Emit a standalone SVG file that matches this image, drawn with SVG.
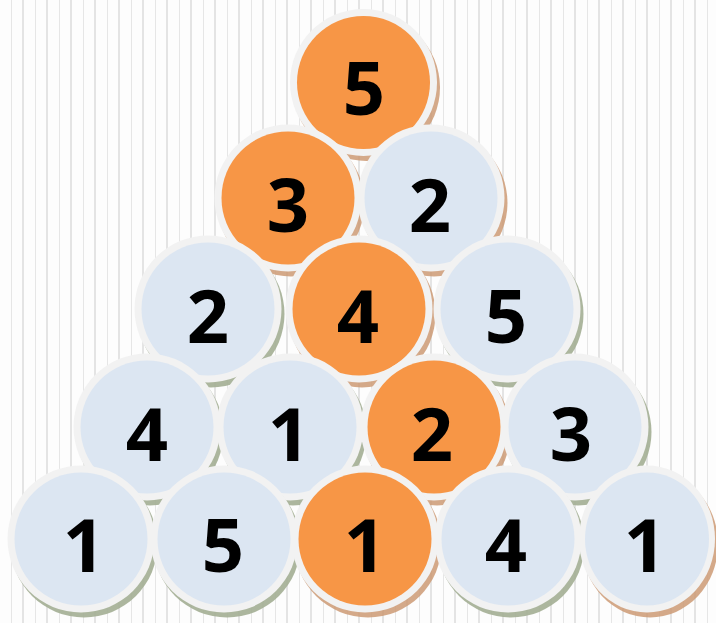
<svg xmlns="http://www.w3.org/2000/svg" width="716" height="623" viewBox="0 0 716 623">
  <defs>
    <pattern id="stripes" x="0" y="0" width="24" height="623" patternUnits="userSpaceOnUse">
      <rect x="0" y="0" width="24" height="623" fill="#fdfdfd"/>
      <rect x="11" y="0" width="1" height="623" fill="#e6e6e6"/>
      <rect x="22" y="0" width="2" height="623" fill="#e4e4e4"/>
    </pattern>
  </defs>
  <style>
    .ring { fill: #f2f2f2; }
    .blue { fill: #dce6f2; }
    .orange { fill: #f79646; }
    .shg { fill: #a3ae93; opacity: 0.9; }
    .sht { fill: #cc9a74; opacity: 0.85; }
    text { font-family: "Open Sans", "Liberation Sans", sans-serif; font-weight: bold; font-size: 74px; fill: #000; text-anchor: middle; }
  </style>
  <rect width="716" height="623" fill="url(#stripes)"/>
  <g id="connectors"/>
  <!-- Row 1 -->
  <g id="n-r1-1">
    <circle class="sht" cx="366.5" cy="87.5" r="73.5"/>
    <circle class="ring" cx="363.5" cy="82.5" r="73.5"/>
    <circle class="orange" cx="363.5" cy="82.5" r="66.5"/>
    <text x="364" y="115">5</text>
  </g>
  <!-- Row 2 -->
  <g id="n-r2-1">
    <circle class="sht" cx="291" cy="203" r="73.5"/>
    <circle class="ring" cx="288" cy="198" r="73.5"/>
    <circle class="orange" cx="288" cy="198" r="66.5"/>
    <text x="288" y="232">3</text>
  </g>
  <g id="n-r2-2">
    <circle class="sht" cx="434" cy="203" r="73.5"/>
    <circle class="ring" cx="431" cy="198" r="73.5"/>
    <circle class="blue" cx="431" cy="198" r="66.5"/>
    <text x="430" y="232">2</text>
  </g>
  <!-- Row 3 -->
  <g id="n-r3-1">
    <circle class="shg" cx="211" cy="314" r="73.5"/>
    <circle class="ring" cx="208" cy="309" r="73.5"/>
    <circle class="blue" cx="208" cy="309" r="66.5"/>
    <text x="208" y="343">2</text>
  </g>
  <g id="n-r3-2">
    <circle class="sht" cx="362" cy="314" r="73.5"/>
    <circle class="ring" cx="359" cy="309" r="73.5"/>
    <circle class="orange" cx="359" cy="309" r="66.5"/>
    <text x="358" y="343">4</text>
  </g>
  <g id="n-r3-3">
    <circle class="shg" cx="510" cy="314" r="73.5"/>
    <circle class="ring" cx="507" cy="309" r="73.5"/>
    <circle class="blue" cx="507" cy="309" r="66.5"/>
    <text x="506" y="343">5</text>
  </g>
  <!-- Row 4 -->
  <g id="n-r4-1">
    <circle class="shg" cx="150" cy="432" r="73.5"/>
    <circle class="ring" cx="147" cy="427" r="73.5"/>
    <circle class="blue" cx="147" cy="427" r="66.5"/>
    <text x="147" y="461">4</text>
  </g>
  <g id="n-r4-2">
    <circle class="shg" cx="293" cy="432" r="73.5"/>
    <circle class="ring" cx="290" cy="427" r="73.5"/>
    <circle class="blue" cx="290" cy="427" r="66.5"/>
    <text x="289" y="461">1</text>
  </g>
  <g id="n-r4-3">
    <circle class="sht" cx="437" cy="432" r="73.5"/>
    <circle class="ring" cx="434" cy="427" r="73.5"/>
    <circle class="orange" cx="434" cy="427" r="66.5"/>
    <text x="432" y="461">2</text>
  </g>
  <g id="n-r4-4">
    <circle class="shg" cx="578" cy="432" r="73.5"/>
    <circle class="ring" cx="575" cy="427" r="73.5"/>
    <circle class="blue" cx="575" cy="427" r="66.5"/>
    <text x="571" y="461">3</text>
  </g>
  <!-- Row 5 -->
  <g id="n-r5-1">
    <circle class="shg" cx="84" cy="544" r="73.5"/>
    <circle class="ring" cx="81" cy="539" r="73.5"/>
    <circle class="blue" cx="81" cy="539" r="66.5"/>
    <text x="84" y="572">1</text>
  </g>
  <g id="n-r5-2">
    <circle class="shg" cx="227" cy="544" r="73.5"/>
    <circle class="ring" cx="224" cy="539" r="73.5"/>
    <circle class="blue" cx="224" cy="539" r="66.5"/>
    <text x="223" y="572">5</text>
  </g>
  <g id="n-r5-3">
    <circle class="sht" cx="368" cy="544" r="73.5"/>
    <circle class="ring" cx="365" cy="539" r="73.5"/>
    <circle class="orange" cx="365" cy="539" r="66.5"/>
    <text x="365" y="572">1</text>
  </g>
  <g id="n-r5-4">
    <circle class="shg" cx="511" cy="544" r="73.5"/>
    <circle class="ring" cx="508" cy="539" r="73.5"/>
    <circle class="blue" cx="508" cy="539" r="66.5"/>
    <text x="506" y="572">4</text>
  </g>
  <g id="n-r5-5">
    <ellipse class="sht" cx="650" cy="544" rx="68" ry="73.5"/>
    <ellipse class="ring" cx="647" cy="539" rx="68" ry="73.5"/>
    <ellipse class="blue" cx="647" cy="539" rx="62" ry="66.5"/>
    <text x="645" y="572">1</text>
  </g>
</svg>
